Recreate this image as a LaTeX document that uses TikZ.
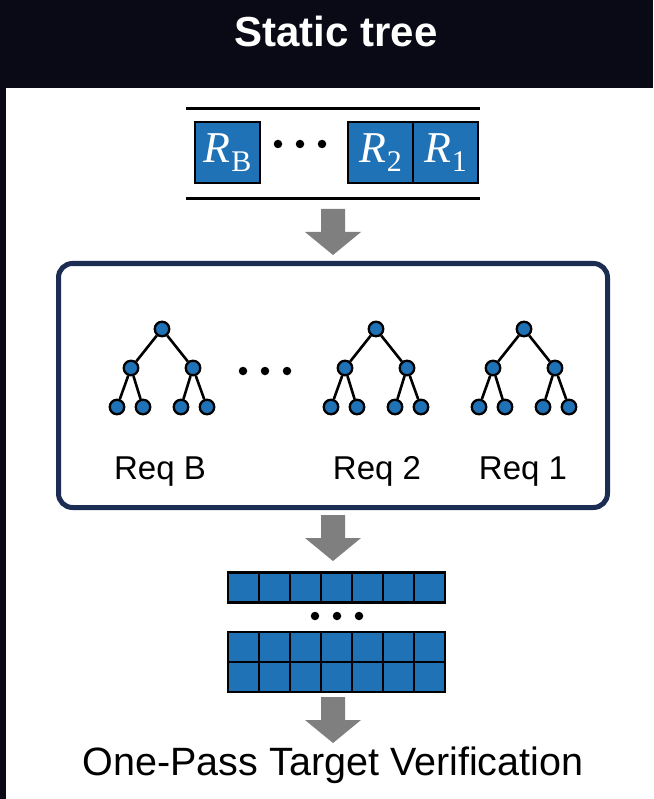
\documentclass[tikz,border=0pt]{standalone}
\usepackage[no-math]{fontspec}
\setmainfont{Liberation Sans}
\newfontfamily\rfont{Liberation Serif}
\definecolor{bgdark}{HTML}{0A0A17}
\definecolor{tblue}{HTML}{1F72B6}
\definecolor{navy}{HTML}{1B2D52}
\definecolor{agray}{HTML}{7F7F7F}
\newcommand\rlab[1]{{\rfont\fontsize{44}{44}\selectfont\itshape R}\kern1pt\raisebox{-9pt}{\rfont\fontsize{30}{30}\selectfont #1}}
\begin{document}
\begin{tikzpicture}[x=1pt,y=-1pt,
  tn/.style={circle,fill=tblue,draw=black,line width=2.3pt,minimum size=14.5pt,inner sep=0pt},
  te/.style={line width=2.6pt,draw=black},
  rbox/.style={fill=tblue,draw=black,line width=2.5pt,minimum width=65pt,minimum height=61pt,inner sep=0pt,text=white},
  cell/.style={fill=tblue,draw=black,line width=2.5pt,minimum width=31pt,minimum height=30pt,inner sep=0pt},
  bdot/.style={circle,fill=black,minimum size=8.5pt,inner sep=0pt},
  lbl/.style={anchor=base,font=\fontsize{33}{33}\selectfont},
  downarrow/.pic={\fill[agray] (-12,0) -- (12,0) -- (12,23) -- (28,23) -- (0,46) -- (-28,23) -- (-12,23) -- cycle;}]
\useasboundingbox (0,0) rectangle (653,799);
\fill[bgdark] (0,0) rectangle (653,799);
\fill[white] (6,88) rectangle (653,799);
\node[text=white,font=\bfseries\fontsize{42}{42}\selectfont] (title) at (336,31) {Static tree};
% request queue
\draw[line width=3pt] (186,109) -- (480,109);
\draw[line width=3pt] (186,199) -- (480,199);
\node[rbox] (rB) at (227.5,152.5) {\rlab{B}};
\node[rbox] (r2) at (380.5,152.5) {\rlab{2}};
\node[rbox] (r1) at (445.5,152.5) {\rlab{1}};
\foreach \x [count=\i] in {278,300,322} \node[bdot] (qd\i) at (\x,144) {};
% arrows
\pic at (333,209) {downarrow};
\pic at (333,515) {downarrow};
\pic at (333,697) {downarrow};
% panel
\node[draw=navy,line width=5pt,rounded corners=14pt,minimum width=549pt,minimum height=244pt] (panel) at (333,385.5) {};
% trees
\foreach \rx/\nm in {162/b,376/two,524/one}{
  \node[tn] (\nm r) at (\rx,329) {};
  \node[tn] (\nm l) at (\rx-31,368) {};
  \node[tn] (\nm m) at (\rx+31,368) {};
  \node[tn] (\nm a) at (\rx-45,407) {};
  \node[tn] (\nm b) at (\rx-19,407) {};
  \node[tn] (\nm c) at (\rx+19,407) {};
  \node[tn] (\nm d) at (\rx+45,407) {};
  \draw[te] (\nm r) -- (\nm l);
  \draw[te] (\nm r) -- (\nm m);
  \draw[te] (\nm l) -- (\nm a);
  \draw[te] (\nm l) -- (\nm b);
  \draw[te] (\nm m) -- (\nm c);
  \draw[te] (\nm m) -- (\nm d);
}
\foreach \x [count=\i] in {243,265,287} \node[bdot] (td\i) at (\x,371) {};
\node[lbl] (reqB) at (160,479) {Req B};
\node[lbl] (req2) at (377,479) {Req 2};
\node[lbl] (req1) at (523,479) {Req 1};
% token blocks
\foreach \c in {0,...,6}{
  \node[cell] (t\c) at (243.5+31*\c,587.5) {};
  \node[cell] (u\c) at (243.5+31*\c,647) {};
  \node[cell] (v\c) at (243.5+31*\c,677) {};
}
\foreach \x [count=\i] in {315,337,359} \node[bdot] (md\i) at (\x,616) {};
\node[lbl,font=\fontsize{39.5}{39.5}\selectfont] (verif) at (333,775) {One-Pass Target Verification};
\end{tikzpicture}
\end{document}
